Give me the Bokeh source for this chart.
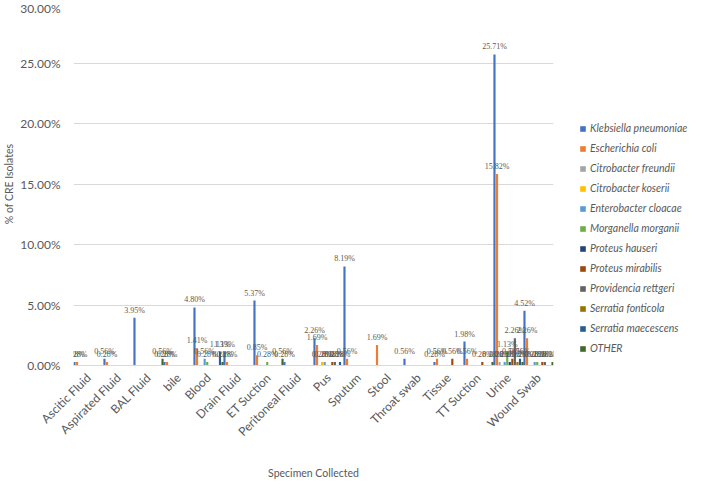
from bokeh.plotting import figure
from bokeh.models import (FactorRange, Range1d, ColumnDataSource, LabelSet, Legend,
                          LegendItem, FixedTicker, PrintfTickFormatter)
from bokeh.transform import dodge
from bokeh.embed import file_html
from bokeh.resources import INLINE

categories = ["Ascitic Fluid", "Aspirated Fluid", "BAL Fluid", "bile", "Blood",
              "Drain Fluid", "ET Suction", "Peritoneal Fluid", "Pus", "Sputum",
              "Stool", "Throat swab", "Tissue", "TT Suction", "Urine", "Wound Swab"]

series_names = ["Klebsiella pneumoniae", "Escherichia coli", "Citrobacter freundii",
                "Citrobacter koserii", "Enterobacter cloacae", "Morganella morganii",
                "Proteus hauseri", "Proteus mirabilis", "Providencia rettgeri",
                "Serratia fonticola", "Serratia maecescens", "OTHER"]

klebsiella  = [0.28, 0.56, 3.95, 0.28, 4.80, 1.13, 5.37, 0.28, 2.26, 8.19, 0, 0.56, 0.28, 1.98, 25.71, 4.52]
ecoli       = [0.28, 0.28, 0, 0.28, 1.41, 0.28, 0.85, 0, 1.69, 0.56, 1.69, 0, 0.56, 0.56, 15.82, 2.26]
c_freundii  = [0, 0, 0, 0, 0, 0, 0, 0, 0, 0, 0, 0, 0, 0, 0.28, 0]
c_koserii   = [0, 0, 0, 0, 0, 0, 0, 0, 0.28, 0, 0, 0, 0, 0, 0, 0]
e_cloacae   = [0, 0, 0, 0, 0.56, 0, 0, 0, 0.28, 0, 0, 0, 0, 0, 0.28, 0.28]
m_morganii  = [0, 0, 0, 0, 0.28, 0, 0.28, 0, 0, 0, 0, 0, 0, 0, 1.13, 0.28]
p_hauseri   = [0, 0, 0, 0, 0, 0, 0, 0, 0, 0, 0, 0, 0, 0, 0.28, 0]
p_mirabilis = [0, 0, 0, 0, 0, 0, 0, 0, 0.28, 0, 0, 0, 0.56, 0.28, 0.56, 0.28]
p_rettgeri  = [0, 0, 0, 0, 0, 0, 0, 0, 0.28, 0, 0, 0, 0, 0, 2.26, 0.28]
s_fonticola = [0, 0, 0, 0, 0, 0, 0, 0, 0, 0, 0, 0, 0, 0, 0.28, 0]
s_maecescens= [0, 0, 0, 0, 1.13, 0, 0, 0, 0.28, 0, 0, 0, 0, 0, 0.56, 0]
other       = [0, 0, 0.56, 0, 0.28, 0, 0.56, 0, 0, 0, 0, 0, 0, 0.28, 0.28, 0.28]

series_values = [klebsiella, ecoli, c_freundii, c_koserii, e_cloacae, m_morganii,
                 p_hauseri, p_mirabilis, p_rettgeri, s_fonticola, s_maecescens, other]

colors = ["#4472C4", "#ED7D31", "#A5A5A5", "#FFC000", "#5B9BD5", "#70AD47",
          "#264478", "#9E480E", "#636363", "#997300", "#255E91", "#43682B"]

y_ticks = [0, 5, 10, 15, 20, 25, 30]

FONT = "Lato"
GREY = "#595959"

p = figure(x_range=FactorRange(factors=categories), y_range=Range1d(0, 30),
           frame_width=480, frame_height=363,
           min_border_left=54, min_border_top=2, min_border_bottom=110, min_border_right=0,
           output_backend="svg", toolbar_location=None)
p.outline_line_color = None
p.background_fill_color = "white"

slot = 0.085
bar_w = 0.072
items = []
for j, (name, vals, col) in enumerate(zip(series_names, series_values, colors)):
    cats_nz = [c for c, v in zip(categories, vals) if v > 0]
    vals_nz = [v for v in vals if v > 0]
    src = ColumnDataSource(dict(cat=cats_nz, val=vals_nz,
                                lab=["%.2f%%" % v for v in vals_nz]))
    off = (j - 5.5) * slot
    r = p.vbar(x=dodge("cat", off, range=p.x_range), top="val", width=bar_w,
               source=src, fill_color=col, line_color=None)
    lbl = LabelSet(x=dodge("cat", off, range=p.x_range), y="val", text="lab", source=src,
                   text_font=FONT, text_font_size="8px", text_color=GREY,
                   text_align="center", text_baseline="bottom", y_offset=3)
    p.add_layout(lbl)
    items.append(LegendItem(label=name, renderers=[r]))

legend = Legend(items=items, location=(26, 10), orientation="vertical",
                label_text_font=FONT, label_text_font_size="10.5px",
                label_text_font_style="italic", label_text_color=GREY,
                glyph_width=7, glyph_height=7, label_height=14, label_standoff=4,
                spacing=6, padding=0, margin=0, border_line_color=None,
                background_fill_alpha=0)
p.add_layout(legend, "right")

p.yaxis.ticker = FixedTicker(ticks=y_ticks)
p.yaxis.formatter = PrintfTickFormatter(format="%.2f%%")
p.yaxis.axis_line_color = None
p.yaxis.major_tick_line_color = None
p.yaxis.minor_tick_line_color = None
p.yaxis.major_label_text_font = FONT
p.yaxis.major_label_text_font_size = "12px"
p.yaxis.major_label_text_color = GREY
p.yaxis.major_label_standoff = 7
p.yaxis.axis_label = "% of CRE Isolates"
p.yaxis.axis_label_text_font = FONT
p.yaxis.axis_label_text_font_size = "10.5px"
p.yaxis.axis_label_text_font_style = "normal"
p.yaxis.axis_label_text_color = GREY
p.yaxis.axis_label_standoff = 2

p.xaxis.axis_line_color = "#D9D9D9"
p.xaxis.major_tick_line_color = None
p.xaxis.minor_tick_line_color = None
p.xaxis.major_label_orientation = 0.785398
p.xaxis.major_label_text_font = FONT
p.xaxis.major_label_text_font_size = "12px"
p.xaxis.major_label_text_color = GREY
p.xaxis.major_label_standoff = 4
p.xaxis.axis_label = "Specimen Collected"
p.xaxis.axis_label_text_font = FONT
p.xaxis.axis_label_text_font_size = "10.5px"
p.xaxis.axis_label_text_font_style = "normal"
p.xaxis.axis_label_text_color = GREY
p.xaxis.axis_label_standoff = 20

p.xgrid.grid_line_color = None
p.ygrid.grid_line_color = "#D9D9D9"
p.ygrid.grid_line_width = 1

open("out.html", "w").write(file_html(p, INLINE))
